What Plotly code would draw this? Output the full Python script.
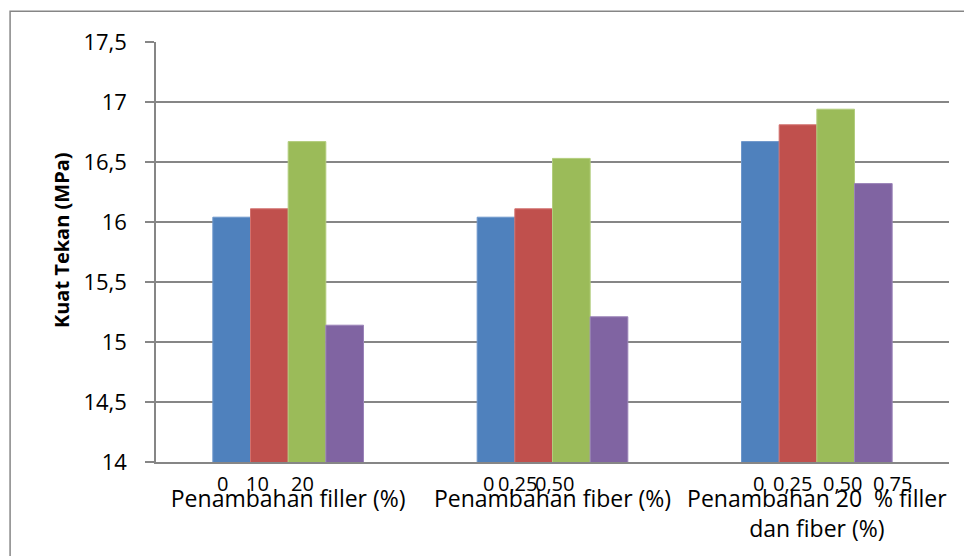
import plotly.graph_objects as go

# Compressive strength (Kuat Tekan, MPa) per mix group
categories = [
    "Penambahan filler (%)",
    "Penambahan fiber (%)",
    "Penambahan 20  % filler<br>dan fiber (%)",
]
series_1 = [16.04, 16.04, 16.67]
series_2 = [16.11, 16.11, 16.81]
series_3 = [16.67, 16.53, 16.94]
series_4 = [15.14, 15.21, 16.32]

# Percentage labels printed above each category name
group_labels = [
    ["0", "10", "20"],
    ["0", "0,25", "0,50"],
    ["0", "0,25", "0,50", "0,75"],
]

y_ticks = [14, 14.5, 15, 15.5, 16, 16.5, 17, 17.5]
y_title = "Kuat Tekan (MPa)"

series = [series_1, series_2, series_3, series_4]
colors = ["#4F81BD", "#C0504D", "#9BBB59", "#8064A2"]
edges = ["#6E97CB", "#D2716E", "#B2CD7D", "#9A83B8"]

fig = go.Figure()
for i, (vals, col, edge) in enumerate(zip(series, colors, edges)):
    fig.add_trace(go.Bar(
        x=categories, y=vals, name=f"Seri {i + 1}",
        marker=dict(color=col, line=dict(color=edge, width=1)),
        showlegend=False,
    ))

# Horizontal offsets (in category units) of the small percentage labels
label_offsets = [
    [-0.25, -0.117, 0.053],
    [-0.242, -0.134, 0.006],
    [-0.22, -0.091, 0.098, 0.288],
]
annotations = []
for ci, (labels, offs) in enumerate(zip(group_labels, label_offsets)):
    for lab, off in zip(labels, offs):
        annotations.append(dict(
            x=ci + off, y=-0.052, xref="x", yref="paper",
            text=lab, showarrow=False, xanchor="center", yanchor="middle",
            font=dict(family="Open Sans", size=20, color="#000000"),
        ))

# Vertical axis title, set slightly above the plot's centre
annotations.append(dict(
    x=-0.12, y=0.528, xref="paper", yref="paper",
    text=f"<b>{y_title}</b>", textangle=-90, showarrow=False,
    xanchor="center", yanchor="middle",
    font=dict(family="Open Sans", size=20, color="#000000"),
))

grid_col = "#868686"

fig.update_layout(
    width=964, height=556,
    margin=dict(l=156, r=15, t=42, b=92),
    paper_bgcolor="white", plot_bgcolor="white",
    barmode="group", bargap=0.43, bargroupgap=0,
    separators=",.",
    font=dict(family="Open Sans", color="#000000"),
    annotations=annotations,
    shapes=[dict(
        type="rect", xref="paper", yref="paper",
        x0=-0.184, x1=1.08, y0=-0.35, y1=1.0735,
        line=dict(color="#868686", width=1.5), fillcolor="rgba(0,0,0,0)",
        layer="below",
    )],
    xaxis=dict(
        showgrid=False, showline=True, linecolor=grid_col, linewidth=2,
        ticks="", tickfont=dict(family="Open Sans", size=23, color="#000000"),
        ticklabelstandoff=15, fixedrange=True,
    ),
    yaxis=dict(
        range=[14, 17.5], tickvals=y_ticks, showgrid=True, gridcolor=grid_col,
        gridwidth=1.5, showline=True, linecolor=grid_col, linewidth=1.5,
        ticks="outside", ticklen=9, tickcolor=grid_col, tickwidth=1.5,
        tickfont=dict(family="Open Sans", size=22, color="#000000"),
        ticklabelstandoff=14, zeroline=False,
    ),
)

fig.write_html("out.html")
